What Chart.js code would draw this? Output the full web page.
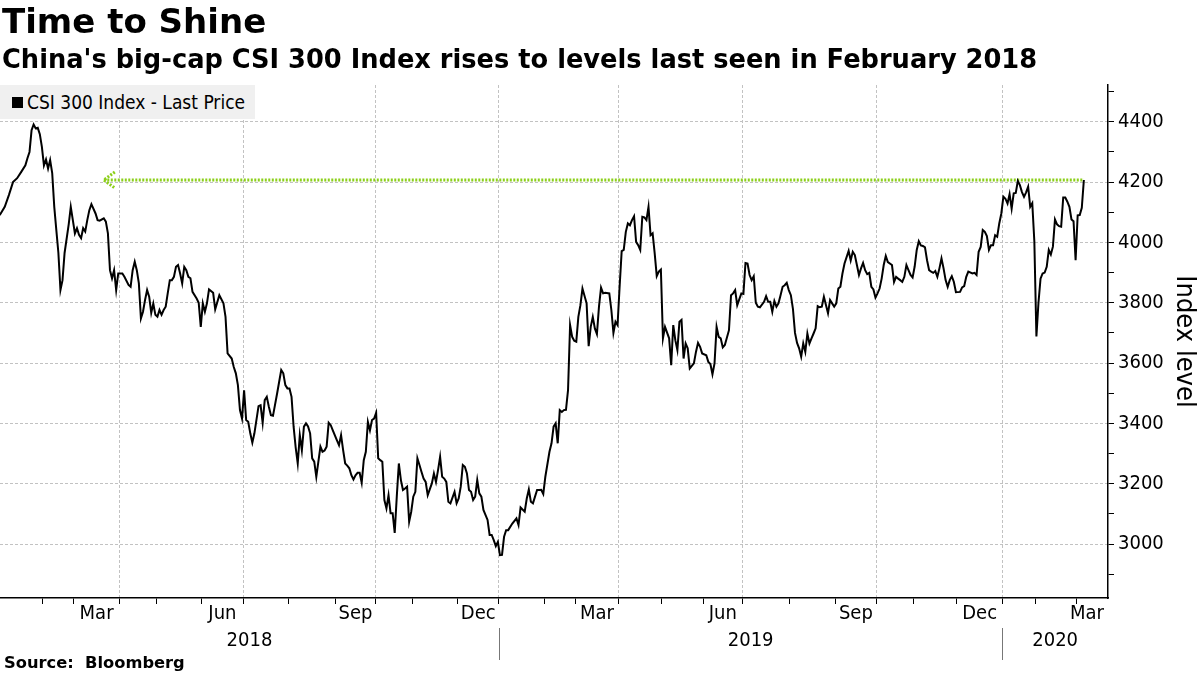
<!DOCTYPE html>
<html>
<head>
<meta charset="utf-8">
<script src="https://cdn.jsdelivr.net/npm/chart.js@4.4.1/dist/chart.umd.min.js"></script>
<style>
html,body{margin:0;padding:0;background:#fff;}
#wrap{position:relative;width:1200px;height:675px;overflow:hidden;background:#fff;}
#c{position:absolute;left:0;top:0;}
.t{position:absolute;left:2px;white-space:nowrap;color:#000;font-family:'DejaVu Sans',sans-serif;font-weight:bold;line-height:1;}
#title{top:4px;font-size:34px;}
#sub{top:47px;font-size:25.7px;}
#src{top:655px;left:4px;font-size:16.3px;}
#legend{position:absolute;left:0;top:85px;width:255px;height:34px;background:#f0f0f0;
  font-family:'DejaVu Sans Condensed','DejaVu Sans',sans-serif;font-size:19px;color:#000;
  display:flex;align-items:center;white-space:nowrap;}
#legend .sq{display:inline-block;width:11px;height:11px;background:#000;margin:0 4px 0 12px;}
</style>
</head>
<body>
<div id="wrap">
<canvas id="c" width="1200" height="675"></canvas>
<div class="t" id="title">Time to Shine</div>
<div class="t" id="sub">China's big-cap CSI 300 Index rises to levels last seen in February 2018</div>
<div id="legend"><span class="sq"></span>CSI 300 Index - Last Price</div>
<div class="t" id="src">Source:&nbsp; Bloomberg</div>
</div>
<script>
// ---- Data: [trading day number since 2 Jan 2018, CSI 300 close] ----
const csi2018 = [[0,4087],[1,4095],[3,4118],[5,4157],[7,4200],[9,4213],[11,4234],[13,4256],[14,4279],[15,4300],[16,4372],[17,4391],[18,4378],[19,4380],[20,4359],[21,4317],[22,4255],[23,4275],[24,4245],[25,4273],[26,4230],[27,4118],[28,4041],[29,3965],[30,3842],[31,3875],[32,3965],[34,4060],[35,4118],[36,4074],[37,4030],[38,4047],[39,4025],[40,4014],[41,4047],[42,4036],[43,4074],[44,4107],[45,4127],[47,4096],[48,4074],[49,4072],[51,4080],[52,4069],[53,4030],[54,3908],[55,3881],[56,3908],[57,3842],[58,3897],[60,3897],[61,3886],[63,3859],[64,3853],[65,3908],[66,3936],[67,3908],[68,3864],[69,3748],[70,3770],[71,3809],[72,3842],[73,3820],[74,3766],[75,3797],[76,3760],[77,3754],[78,3776],[79,3760],[80,3776],[81,3787],[82,3832],[83,3875],[84,3875],[85,3886],[86,3919],[87,3925],[88,3897],[89,3864],[90,3919],[91,3908],[92,3886],[93,3881],[94,3836],[96,3814],[97,3800],[98,3720],
[99,3798],[100,3770],[101,3798],[102,3844],[104,3833],[105,3778],[107,3825],[109,3798],[110,3753],[111,3632],[113,3615],[114,3587],[115,3566],[116,3527],[117,3444],[118,3416],[119,3510],[120,3411],[121,3405],[122,3367],[123,3336],[124,3367],[126,3457],[127,3460],[128,3402],[129,3477],[130,3488],[131,3455],[132,3427],[133,3425],[135,3499],[136,3538],[137,3577],[138,3566],[139,3527],[140,3516],[141,3516],[142,3488],[143,3389],[144,3320],[145,3267],[146,3361],[147,3311],[148,3389],[149,3400],[150,3390],[151,3367],[152,3284],[153,3273],[154,3223],[155,3273],[156,3323],[157,3306],[158,3310],[159,3323],[160,3402],[161,3394],[162,3377],[163,3360],[164,3344],[165,3328],[166,3361],[167,3311],[168,3267],[169,3260],[170,3251],[171,3228],[172,3214],[173,3228],[174,3236],[175,3236],[176,3203],[177,3278],[178,3306],[179,3405],[180,3377],[181,3411],[182,3416],[183,3435],[184,3284],[185,3278],[186,3273],[187,3146],[188,3118],[189,3162],[190,3102],[191,3102],[192,3037],[193,3157],[194,3267],[195,3212],[196,3179],[197,3184],[198,3190],[199,3074],[200,3107],[201,3157],[202,3173],[203,3284],[204,3262],[205,3239],[206,3217],[207,3206],[208,3162],[210,3201],[211,3234],[212,3206],[213,3245],[214,3289],[215,3223],[216,3217],[217,3206],[218,3140],[219,3135],[221,3173],[222,3135],[223,3151],[224,3190],[225,3262],[226,3256],[227,3234],[228,3179],[229,3173],[230,3146],[231,3157],[232,3212],[233,3168],[234,3157],[235,3113],[237,3080],[238,3030],[239,3030],[240,3013],[241,2993],[242,3007]];

const csi2019 = [[243,2963],[244,2964],[245,3024],[246,3046],[247,3046],[249,3068],[251,3085],[252,3063],[253,3121],[255,3107],[256,3151],[257,3181],[258,3140],[259,3135],[260,3157],[261,3179],[262,3179],[263,3180],[264,3166],[265,3223],[267,3306],[268,3334],[269,3389],[270,3400],[271,3334],[272,3444],[273,3438],[274,3444],[275,3445],[276,3510],[277,3726],[278,3687],[279,3674],[280,3671],[281,3753],[282,3792],[283,3847],[285,3798],[286,3656],[287,3720],[288,3753],[289,3715],[290,3696],[291,3787],[292,3850],[293,3831],[294,3833],[296,3831],[297,3776],[298,3700],[299,3737],[300,3726],[301,3853],[302,3971],[303,3975],[304,4035],[305,4063],[306,4057],[307,4074],[308,4087],[309,4002],[310,3991],[311,3975],[312,4085],[313,4083],[314,4074],[315,4118],[316,4024],[317,4030],[318,3964],[319,3888],[320,3903],[321,3910],[322,3682],[323,3720],[325,3682],[326,3593],[327,3726],[328,3676],[329,3643],[330,3737],[331,3743],[332,3615],[333,3665],[334,3649],[335,3582],[337,3599],[338,3637],[339,3667],[340,3654],[341,3632],[343,3626],[344,3604],[345,3597],[346,3563],[347,3599],[348,3720],[349,3687],[350,3682],[351,3652],[352,3660],[354,3709],[355,3825],[356,3831],[357,3842],[358,3792],[360,3831],[361,3829],[362,3932],[363,3930],[364,3892],[365,3875],[366,3888],[367,3800],[368,3787],[369,3785],[371,3803],[372,3822],[373,3803],[374,3803],[375,3770],[376,3806],[377,3787],[378,3798],[379,3825],[380,3853],[381,3858],[382,3866],[383,3842],[384,3825],[385,3780],[386,3700],[387,3667],[388,3649],[389,3621],[390,3665],[391,3637],[392,3698],[393,3665],[394,3682],[395,3698],[396,3715],[397,3789],[398,3785],[399,3787],[400,3820],[402,3765],[403,3809],[404,3798],[405,3787],[406,3798],[407,3847],[408,3853],[409,3897],[410,3930],[412,3972],[413,3940],[414,3969],[415,3958],[416,3925],[417,3892],[418,3914],[419,3932],[420,3908],[421,3895],[422,3899],[423,3853],[424,3844],[425,3817],[426,3831],[427,3847],[428,3880],[429,3925],[430,3955],[431,3935],[433,3925],[434,3869],[435,3886],[436,3880],[437,3875],[438,3869],[439,3886],[440,3925],[441,3908],[442,3892],[443,3884],[444,3920],[445,3975],[446,4004],[447,3990],[448,3988],[449,3984],[450,3941],[451,3908],[452,3903],[453,3899],[454,3905],[455,3886],[456,3914],[457,3947],[458,3914],[459,3875],[460,3853],[461,3875],[462,3888],[463,3869],[464,3835],[466,3836],[467,3851],[468,3855],[469,3886],[470,3903],[472,3897],[473,3899],[474,3892],[475,3969],[476,3985],[477,4041],[478,4035],[479,4021],[480,3975],[481,3991],[482,3991],[483,4024],[484,4019],[485,4063],[486,4096]];

const csi2020 = [[487,4152],[488,4145],[489,4129],[490,4160],[491,4112],[492,4163],[493,4164],[494,4204],[495,4190],[496,4167],[497,4151],[498,4166],[499,4185],[500,4118],[501,4130],[502,4004],[503,3688],[504,3800],[505,3880],[506,3897],[507,3900],[508,3919],[509,3975],[510,3960],[511,3986],[512,4076],[513,4060],[514,4054],[515,4052],[516,4149],[517,4149],[518,4135],[519,4118],[520,4076],[521,4070],[522,3941],[523,4090],[524,4091],[525,4115],[526,4207]];

// Calendar: first trading day number of each month, and its label
const monthStartDay = [0,22,37,59,77,99,119,141,164,183,201,223,243,265,280,301,322,342,361,384,406,426,444,465,487,503,523];
const monthName = ['Jan','Feb','Mar','Apr','May','Jun','Jul','Aug','Sep','Oct','Nov','Dec','Jan','Feb','Mar','Apr','May','Jun','Jul','Aug','Sep','Oct','Nov','Dec','Jan','Feb','Mar'];
const shownMonths = ['Mar','Jun','Sep','Dec'];
const quarterStarts = ['Jan','Apr','Jul','Oct'];
const yearStartDay = [0,243,487];
const yearName = ['2018','2019','2020'];
const levelTicks = [2900,3000,3100,3200,3300,3400,3500,3600,3700,3800,3900,4000,4100,4200,4300,4400,4500];
const levelLabels = ['3000','3200','3400','3600','3800','4000','4200','4400'];
const shineStartDay = 51;
const shineLevel = 4207;

const series = csi2018.concat(csi2019, csi2020).map(p => ({x: p[0], y: p[1]}));
const lastDay = csi2020[csi2020.length - 1][0];

const FONT = '"DejaVu Sans Condensed","DejaVu Sans",sans-serif';
const GREEN = '#8ccf1a';

const shineArrow = {
  id: 'shineArrow',
  afterDatasetsDraw(chart) {
    const {ctx, scales: {x, y}} = chart;
    const px = x.getPixelForValue(shineStartDay), py = y.getPixelForValue(shineLevel);
    ctx.save();
    ctx.strokeStyle = GREEN; ctx.lineWidth = 3; ctx.setLineDash([2, 1.5]);
    ctx.beginPath(); ctx.moveTo(px + 11, py - 8); ctx.lineTo(px, py); ctx.lineTo(px + 11, py + 8); ctx.stroke();
    ctx.restore();
  }
};

const dateLabels = {
  id: 'dateLabels',
  afterDraw(chart) {
    const {ctx, chartArea: a, scales: {x}} = chart;
    const span = (s, e) => [Math.max(x.getPixelForValue(s), a.left), Math.min(x.getPixelForValue(e), a.right)];
    ctx.save();
    ctx.font = '20px ' + FONT;
    ctx.fillStyle = '#000'; ctx.textAlign = 'center'; ctx.textBaseline = 'middle';
    monthStartDay.forEach((d, k) => {
      if (!shownMonths.includes(monthName[k])) return;
      const end = k + 1 < monthStartDay.length ? monthStartDay[k + 1] - 0.5 : x.max;
      const [l, r] = span(d - 0.5, end);
      if (r <= l) return;
      const w = ctx.measureText(monthName[k]).width;
      const cx = Math.min((l + r) / 2, a.right - 4 - w / 2);
      ctx.fillText(monthName[k], cx, a.bottom + 16);
    });
    ctx.strokeStyle = '#777'; ctx.lineWidth = 1;
    yearStartDay.forEach((d, k) => {
      const end = k + 1 < yearStartDay.length ? yearStartDay[k + 1] - 0.5 : x.max;
      const [l, r] = span(d - 0.5, end);
      ctx.fillText(yearName[k], (l + r) / 2, a.bottom + 43);
      if (d - 0.5 > x.min) {
        const sx = Math.round(x.getPixelForValue(d - 0.5)) + 0.5;
        ctx.beginPath(); ctx.moveTo(sx, a.bottom + 30); ctx.lineTo(sx, a.bottom + 62); ctx.stroke();
      }
    });
    ctx.restore();
  }
};

new Chart(document.getElementById('c'), {
  type: 'line',
  data: {
    datasets: [
      {label: 'CSI 300 Index - Last Price', data: series, borderColor: '#000', borderWidth: 2,
       pointRadius: 0, tension: 0, order: 0},
      {label: 'level', data: [{x: shineStartDay, y: shineLevel}, {x: lastDay, y: shineLevel}],
       borderColor: GREEN, borderWidth: 3, borderDash: [2, 1.5], pointRadius: 0, order: 1}
    ]
  },
  options: {
    responsive: false, animation: false, parsing: true,
    layout: {padding: {top: 85, left: 0, right: 0, bottom: 0}},
    plugins: {legend: {display: false}, tooltip: {enabled: false}, title: {display: false}},
    scales: {
      x: {
        type: 'linear', position: 'bottom', min: 0.7, max: 537.7,
        afterBuildTicks: s => {
          s.ticks = monthStartDay.map(d => ({value: d - 0.5})).filter(t => t.value > s.min && t.value < s.max);
        },
        afterFit: s => { s.height = 77; },
        ticks: {display: false},
        grid: {
          color: c => {
            const k = monthStartDay.indexOf(c.tick ? c.tick.value + 0.5 : -1);
            return k >= 0 && quarterStarts.includes(monthName[k]) ? '#c2c2c2' : 'rgba(0,0,0,0)';
          },
          lineWidth: 1, tickColor: '#000', tickLength: 6, tickWidth: 1
        },
        border: {display: true, color: '#000', width: 1.5, dash: [3, 2]}
      },
      y: {
        type: 'linear', position: 'right', min: 2821, max: 4522,
        afterBuildTicks: s => { s.ticks = levelTicks.map(v => ({value: v})); },
        afterFit: s => { s.width = 92; },
        ticks: {
          autoSkip: false, padding: 4, color: '#000', font: {size: 20, family: FONT},
          callback: v => levelLabels.includes(String(v)) ? String(v) : ''
        },
        grid: {
          color: c => (c.tick && levelLabels.includes(String(c.tick.value))) ? '#c2c2c2' : 'rgba(0,0,0,0)',
          lineWidth: 1, tickColor: '#000', tickLength: 6, tickWidth: 1
        },
        border: {display: true, color: '#000', width: 1.5, dash: [3, 2]},
        title: {display: true, text: 'Index level', color: '#000', font: {size: 27, family: FONT},
                padding: {top: 0, bottom: 0}}
      }
    }
  },
  plugins: [shineArrow, dateLabels]
});
</script>
</body>
</html>
